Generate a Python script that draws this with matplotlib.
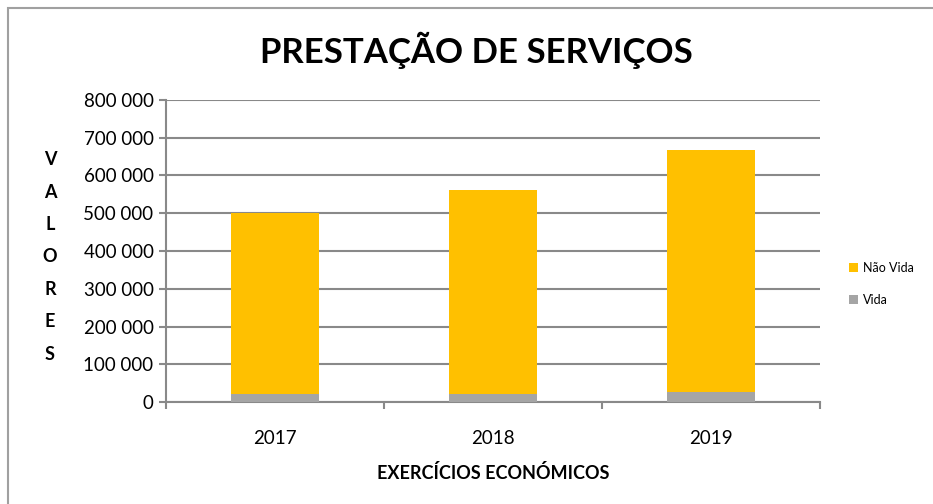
import matplotlib.pyplot as plt
from matplotlib.patches import Rectangle
from matplotlib.ticker import FuncFormatter
import numpy as np

plt.rcParams["font.family"] = ["Lato", "DejaVu Sans"]

# data
anos      = ["2017", "2018", "2019"]
vida      = [21000, 21000, 26000]
nao_vida  = [481000, 540000, 641000]
y_ticks   = [0, 100000, 200000, 300000, 400000, 500000, 600000, 700000, 800000]

C_NAO  = "#FFC000"
C_VIDA = "#A5A5A5"
C_GRID = "#898989"

fig = plt.figure(figsize=(9.33, 5.04), dpi=100, facecolor="white")
ax = fig.add_axes([0.178, 0.2018, 0.701, 0.6])

x = np.arange(len(anos))
ax.bar(x, vida, width=0.4, color=C_VIDA, label="Vida", zorder=3)
ax.bar(x, nao_vida, width=0.4, bottom=vida, color=C_NAO, label="Não Vida", zorder=3)

ax.set_xlim(-0.5, len(anos) - 0.5)
ax.set_ylim(0, 800000)
ax.set_yticks(y_ticks)
ax.yaxis.set_major_formatter(FuncFormatter(lambda v, p: f"{int(v):,}".replace(",", " ")))
ax.set_xticks(x)
ax.set_xticklabels(anos)
ax.set_xticks(np.arange(-0.5, len(anos)), minor=True)
ax.tick_params(axis="x", which="major", length=0, labelsize=13.5, pad=20)
ax.tick_params(axis="x", which="minor", length=5, width=1.5, color=C_GRID, direction="out")
ax.tick_params(axis="y", length=5, width=1.5, color=C_GRID, labelsize=13.5, pad=4)

ax.grid(axis="y", color=C_GRID, linewidth=1.5, zorder=0)
for s in ["top", "right"]:
    ax.spines[s].set_visible(False)
for s in ["left", "bottom"]:
    ax.spines[s].set_color(C_GRID)
    ax.spines[s].set_linewidth(1.5)

ax.set_xlabel("EXERCÍCIOS ECONÓMICOS", fontsize=13, fontweight="bold", labelpad=12)
fig.text(50 / 933, 1 - 257 / 504, "V\nA\nL\nO\nR\nE\nS", ha="center", va="center",
         fontsize=13, fontweight="bold", linespacing=2.1)
fig.text(476 / 933, 1 - 50 / 504, "PRESTAÇÃO DE SERVIÇOS", ha="center", va="center",
         fontsize=25, fontweight="bold")

handles, labels = ax.get_legend_handles_labels()
fig.legend(handles[::-1], labels[::-1], loc="center left", bbox_to_anchor=(838 / 933, 1 - 284 / 504),
           frameon=False, fontsize=9, handlelength=0.7, handleheight=0.7,
           handletextpad=0.4, labelspacing=1.6)

# outer chart frame
fig.patches.append(Rectangle((8 / 933, -0.1), 1.2, 1 - 8 / 504 + 0.1, transform=fig.transFigure,
                             fill=False, edgecolor="#A0A0A0", linewidth=1.5))

fig.savefig("out.png", dpi=100, facecolor="white")
